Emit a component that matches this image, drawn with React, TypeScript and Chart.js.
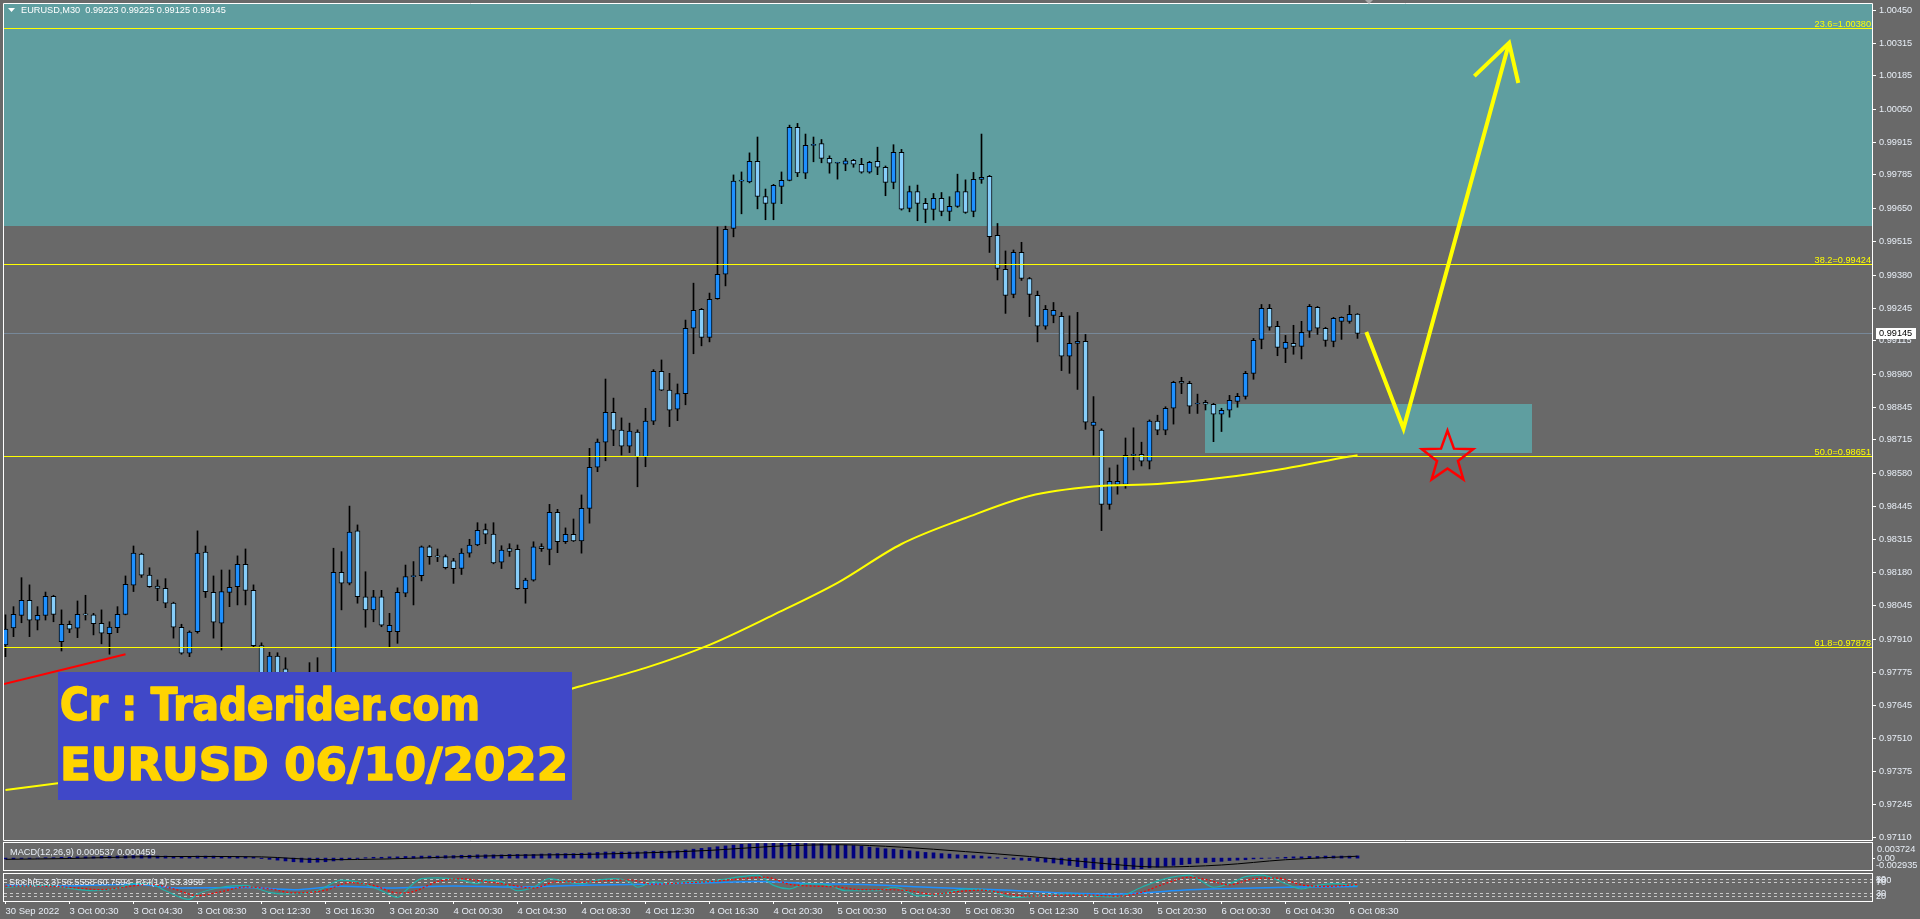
import React, { useEffect, useRef } from "react";
import { Chart, registerables } from "chart.js";

Chart.register(...registerables);

// ---------- candles (M30, bar 0 = 30 Sep 20:30, bar 169 = 6 Oct 09:00) ----------
const OPEN = [
  0.97888, 0.97956, 0.98007, 0.98068, 0.97987, 0.98007, 0.98084, 0.97901, 0.97971, 0.97955,
  0.98011, 0.98009, 0.97975, 0.97933, 0.97957, 0.98011, 0.98129, 0.98254, 0.98169, 0.98125,
  0.98116, 0.98056, 0.97959, 0.97854, 0.97941, 0.98262, 0.981, 0.97975, 0.981, 0.98123,
  0.98213, 0.98108, 0.97885, 0.9775, 0.97843, 0.97791, 0.9774, 0.977, 0.9773, 0.9772,
  0.9774, 0.9771, 0.98181, 0.98137, 0.98348, 0.98082, 0.98029, 0.98082, 0.97941, 0.97941,
  0.98096, 0.98163, 0.98167, 0.98284, 0.98244, 0.98244, 0.98227, 0.98196, 0.98258, 0.98291,
  0.98353, 0.98335, 0.98222, 0.98276, 0.98273, 0.98115, 0.98149, 0.98285, 0.98273, 0.98423,
  0.98304, 0.98334, 0.98307, 0.98439, 0.98605, 0.98706, 0.98827, 0.98755, 0.9869, 0.98747,
  0.98648, 0.98791, 0.98992, 0.98916, 0.98839, 0.98902, 0.99166, 0.99242, 0.99129, 0.99285,
  0.99384, 0.99569, 0.9976, 0.99757, 0.9984, 0.99698, 0.9967, 0.99739, 0.99763, 0.99977,
  0.99792, 0.99904, 0.99912, 0.99852, 0.99832, 0.99828, 0.99844, 0.99828, 0.99796, 0.9984,
  0.99816, 0.99755, 0.99876, 0.9965, 0.99718, 0.9967, 0.99646, 0.9969, 0.99638, 0.99658,
  0.99718, 0.99638, 0.99767, 0.99779, 0.99541, 0.99404, 0.99303, 0.99472, 0.99367, 0.99299,
  0.99174, 0.99218, 0.99214, 0.99053, 0.99105, 0.99113, 0.98774, 0.98755, 0.98455, 0.98536,
  0.98536, 0.98653, 0.98657, 0.98629, 0.98791, 0.98755, 0.98843, 0.98952, 0.98944, 0.9886,
  0.98867, 0.98859, 0.98819, 0.98835, 0.98871, 0.98891, 0.98984, 0.99121, 0.99246, 0.99174,
  0.99085, 0.99105, 0.99093, 0.99154, 0.9925, 0.99166, 0.99113, 0.99194, 0.99194, 0.99223,
];
const HIGH = [
  0.98009, 0.98042, 0.98159, 0.9813, 0.98042, 0.98101, 0.98088, 0.98029, 0.97984, 0.98065,
  0.98088, 0.98015, 0.98029, 0.97981, 0.98042, 0.98166, 0.98287, 0.98258, 0.98199, 0.9815,
  0.98155, 0.9806, 0.97971, 0.97944, 0.98348, 0.98287, 0.98166, 0.9819, 0.9819, 0.98247,
  0.98275, 0.9813, 0.97896, 0.97858, 0.97856, 0.97836, 0.9777, 0.9776, 0.97816, 0.97836,
  0.9777, 0.98278, 0.98264, 0.98448, 0.98372, 0.98183, 0.98108, 0.98108, 0.98015, 0.98118,
  0.9821, 0.98224, 0.98287, 0.98289, 0.98275, 0.98251, 0.98237, 0.98276, 0.98314, 0.98381,
  0.98376, 0.98381, 0.98288, 0.98296, 0.98291, 0.98157, 0.98304, 0.98296, 0.98455, 0.98435,
  0.9836, 0.98396, 0.98493, 0.98681, 0.98719, 0.98961, 0.98884, 0.98804, 0.98783, 0.98756,
  0.98843, 0.98999, 0.99038, 0.98984, 0.98941, 0.99199, 0.99348, 0.99246, 0.99308, 0.99575,
  0.99578, 0.99785, 0.99797, 0.99874, 0.99938, 0.99728, 0.99747, 0.99797, 0.99986, 0.99993,
  0.9995, 0.99938, 0.99928, 0.99862, 0.99836, 0.99852, 0.99848, 0.99852, 0.9984, 0.99897,
  0.99821, 0.99907, 0.99888, 0.9974, 0.99744, 0.9969, 0.9971, 0.99714, 0.99697, 0.99788,
  0.99765, 0.99795, 0.9995, 0.99783, 0.99589, 0.99478, 0.99482, 0.99513, 0.99371, 0.99316,
  0.99258, 0.9927, 0.9923, 0.99216, 0.9923, 0.99141, 0.9889, 0.9876, 0.98602, 0.98614,
  0.98723, 0.98764, 0.98706, 0.98796, 0.98815, 0.98849, 0.98952, 0.98968, 0.98952, 0.989,
  0.98875, 0.98863, 0.98843, 0.98895, 0.98903, 0.98992, 0.99125, 0.99262, 0.99262, 0.99194,
  0.99137, 0.99178, 0.99194, 0.99262, 0.99254, 0.9917, 0.9921, 0.99212, 0.99258, 0.99225,
];
const LOW = [
  0.9784, 0.97921, 0.97977, 0.97921, 0.97948, 0.97988, 0.97981, 0.97863, 0.97937, 0.97917,
  0.97988, 0.97928, 0.97892, 0.9785, 0.97937, 0.98009, 0.98103, 0.9816, 0.9812, 0.98066,
  0.98038, 0.97915, 0.9785, 0.9784, 0.97935, 0.98079, 0.97915, 0.97867, 0.98042, 0.98049,
  0.98049, 0.9788, 0.9774, 0.9772, 0.9773, 0.977, 0.9768, 0.9766, 0.9769, 0.9768,
  0.9769, 0.9769, 0.98029, 0.9813, 0.98056, 0.97959, 0.97981, 0.97961, 0.9788, 0.97894,
  0.98082, 0.98049, 0.98146, 0.98213, 0.98224, 0.98194, 0.98136, 0.98172, 0.98242, 0.98288,
  0.98296, 0.98215, 0.98196, 0.98245, 0.98112, 0.98056, 0.98145, 0.98265, 0.98211, 0.9826,
  0.98297, 0.98305, 0.98258, 0.98379, 0.98587, 0.98631, 0.98692, 0.98654, 0.98664, 0.98526,
  0.98607, 0.98777, 0.98914, 0.98769, 0.98793, 0.98857, 0.99063, 0.99095, 0.99111, 0.99283,
  0.99337, 0.99535, 0.99628, 0.99753, 0.99648, 0.99604, 0.99604, 0.99669, 0.99761, 0.99778,
  0.9977, 0.99838, 0.99834, 0.99792, 0.99768, 0.99802, 0.99816, 0.99792, 0.99792, 0.99786,
  0.99701, 0.99729, 0.99643, 0.99636, 0.996, 0.99592, 0.99603, 0.9962, 0.996, 0.99654,
  0.9963, 0.99616, 0.99751, 0.99472, 0.99361, 0.99226, 0.99289, 0.99359, 0.99213, 0.99111,
  0.99162, 0.99188, 0.98995, 0.98984, 0.98919, 0.98758, 0.98654, 0.98349, 0.98435, 0.98496,
  0.9852, 0.98594, 0.9861, 0.98598, 0.98736, 0.98736, 0.98779, 0.98902, 0.98822, 0.98822,
  0.98836, 0.98708, 0.98749, 0.98807, 0.98847, 0.9888, 0.9896, 0.99083, 0.99158, 0.99055,
  0.99027, 0.99061, 0.99042, 0.99129, 0.99141, 0.99093, 0.99091, 0.99121, 0.99186, 0.99125,
];
const CLOSE = [
  0.97951, 0.98011, 0.98068, 0.97987, 0.98007, 0.98084, 0.98011, 0.97971, 0.97951, 0.98011,
  0.98009, 0.97973, 0.97935, 0.9796, 0.98011, 0.98132, 0.98258, 0.98169, 0.98123, 0.98116,
  0.98056, 0.97959, 0.97854, 0.97939, 0.98258, 0.98103, 0.97979, 0.98103, 0.9812, 0.98213,
  0.98108, 0.97885, 0.9776, 0.97843, 0.9776, 0.9774, 0.977, 0.9773, 0.9772, 0.9774,
  0.9771, 0.98181, 0.98137, 0.98343, 0.98082, 0.98029, 0.98082, 0.97967, 0.97967, 0.981,
  0.98163, 0.98167, 0.98284, 0.98244, 0.98243, 0.98199, 0.98195, 0.98258, 0.98291, 0.9835,
  0.98335, 0.98219, 0.9827, 0.98265, 0.98115, 0.98149, 0.98284, 0.98276, 0.98423, 0.98304,
  0.98334, 0.98307, 0.98439, 0.98605, 0.98706, 0.98827, 0.98755, 0.9869, 0.98751, 0.98648,
  0.98791, 0.98992, 0.98916, 0.98835, 0.98902, 0.99166, 0.99238, 0.99129, 0.99283, 0.99384,
  0.99565, 0.9976, 0.99762, 0.9984, 0.99698, 0.9967, 0.99743, 0.99763, 0.99977, 0.99793,
  0.99904, 0.99907, 0.99852, 0.99832, 0.99834, 0.99842, 0.99828, 0.99796, 0.99836, 0.99816,
  0.99755, 0.99876, 0.99647, 0.99718, 0.9967, 0.99646, 0.9969, 0.99638, 0.99658, 0.99718,
  0.99634, 0.99767, 0.99775, 0.99536, 0.99408, 0.99299, 0.99472, 0.99367, 0.99303, 0.99174,
  0.99242, 0.99238, 0.99053, 0.99105, 0.99113, 0.98787, 0.98787, 0.98455, 0.98548, 0.98548,
  0.98653, 0.98657, 0.98629, 0.98791, 0.98755, 0.98843, 0.98948, 0.98944, 0.98851, 0.9886,
  0.98859, 0.98819, 0.98835, 0.98875, 0.98891, 0.98984, 0.99117, 0.99246, 0.9917, 0.99089,
  0.99109, 0.99093, 0.9915, 0.99254, 0.99166, 0.99117, 0.99206, 0.9921, 0.99222, 0.99145,
];

// ---------- moving average (yellow) ----------
const MA_BARS = [0, 8, 16, 24, 32, 40, 48, 56, 64, 72, 80, 88, 96, 104, 112, 120, 128, 136, 144, 152, 160, 168, 169];
const MA_VALUES = [
  0.97302, 0.97335, 0.97367, 0.97403, 0.97444, 0.97492, 0.9754, 0.97597, 0.97653, 0.97722,
  0.97795, 0.97888, 0.98009, 0.98138, 0.98295, 0.984, 0.98489, 0.98527, 0.98537, 0.98562,
  0.986, 0.98648, 0.98653,
];

// ---------- axes ----------
const PRICE_TICKS = [
  1.0045, 1.00315, 1.00185, 1.0005, 0.99915, 0.99785, 0.9965, 0.99515, 0.9938, 0.99245,
  0.99115, 0.9898, 0.98845, 0.98715, 0.9858, 0.98445, 0.98315, 0.9818, 0.98045, 0.9791,
  0.97775, 0.97645, 0.9751, 0.97375, 0.97245, 0.9711,
];
const TIME_TICK_BARS = [0, 8, 16, 24, 32, 40, 48, 56, 64, 72, 80, 88, 96, 104, 112, 120, 128, 136, 144, 152, 160, 168];
const TIME_LABELS = [
  "30 Sep 2022", "3 Oct 00:30", "3 Oct 04:30", "3 Oct 08:30", "3 Oct 12:30", "3 Oct 16:30",
  "3 Oct 20:30", "4 Oct 00:30", "4 Oct 04:30", "4 Oct 08:30", "4 Oct 12:30", "4 Oct 16:30",
  "4 Oct 20:30", "5 Oct 00:30", "5 Oct 04:30", "5 Oct 08:30", "5 Oct 12:30", "5 Oct 16:30",
  "5 Oct 20:30", "6 Oct 00:30", "6 Oct 04:30", "6 Oct 08:30",
];

// ---------- drawn objects ----------
const FIB_LEVELS = [1.0038, 0.99424, 0.98651, 0.97878];
const FIB_NAMES = ["23.6", "38.2", "50.0", "61.8"];
const UPPER_ZONE_BOTTOM = 0.99577;
const SUPPORT_ZONE_BARS = [149.94, 190.8];
const SUPPORT_ZONE_PRICES = [0.98662, 0.9886];
const ARROW_BARS = [170.1, 174.75, 187.95];
const ARROW_PRICES = [0.99151, 0.98761, 1.00318];
const ARROWHEAD_BARS = [183.6, 187.95, 189.1];
const ARROWHEAD_PRICES = [1.00184, 1.00318, 1.00156];
const TREND_BARS = [-0.19, 15];
const TREND_PRICES = [0.9773, 0.9785];
const STAR_BAR = 180.25;
const STAR_PRICE = 0.98644;
const SHIFT_MARK_BAR = 170.4;
const WATERMARK = ["Cr : Traderider.com", "EURUSD 06/10/2022"];

// ---------- MACD(12,26,9) ----------
const MACD_AXIS = [-0.002935, 0.003724];
const MACD_HIST = [
  -0.0002, -0.0002, -0.0001, -0.0001, 0.0, 0.0001, 0.0001, 0.0002, 0.0002, 0.0003,
  0.0003, 0.0003, 0.0004, 0.0004, 0.0005, 0.0005, 0.0006, 0.0006, 0.0006, 0.0005,
  0.0005, 0.0004, 0.0004, 0.0004, 0.0005, 0.0005, 0.0005, 0.0004, 0.0004, 0.0004,
  0.0003, 0.0002, -0.0001, -0.0003, -0.0005, -0.0007, -0.0009, -0.001, -0.0011, -0.001,
  -0.0009, -0.0007, -0.0005, -0.0003, -0.0001, 0.0001, 0.0002, 0.0002, 0.0003, 0.0003,
  0.0004, 0.0004, 0.0005, 0.0005, 0.0005, 0.0006, 0.0006, 0.0007, 0.0007, 0.0008,
  0.0008, 0.0008, 0.0008, 0.0009, 0.0009, 0.0009, 0.0009, 0.001, 0.0011, 0.0011,
  0.0011, 0.0011, 0.0012, 0.0013, 0.0014, 0.0015, 0.0015, 0.0015, 0.0015, 0.0015,
  0.0016, 0.0017, 0.0017, 0.0017, 0.0018, 0.002, 0.0022, 0.0024, 0.0026, 0.0028,
  0.003, 0.0032, 0.0034, 0.0035, 0.0036, 0.0036, 0.0037, 0.003724, 0.0037, 0.0036,
  0.0036, 0.0035, 0.0035, 0.0034, 0.0033, 0.0032, 0.0031, 0.0029, 0.0027, 0.0025,
  0.0023, 0.0022, 0.002, 0.0018, 0.0016, 0.0014, 0.0013, 0.0011, 0.001, 0.0008,
  0.0007, 0.0006, 0.0005, 0.0003, 0.0001, -0.0001, -0.0003, -0.0005, -0.0006, -0.0008,
  -0.001, -0.0012, -0.0015, -0.0018, -0.0021, -0.0024, -0.0027, -0.0029, -0.002935, -0.0029,
  -0.0028, -0.0027, -0.0026, -0.0024, -0.0022, -0.002, -0.0018, -0.0016, -0.0014, -0.0012,
  -0.0011, -0.0009, -0.0008, -0.0006, -0.0005, -0.0004, -0.0002, -0.0001, 0.0, 0.0001,
  0.0002, 0.0003, 0.0003, 0.0004, 0.0004, 0.0005, 0.0005, 0.0005, 0.0005, 0.000537,
];
const MACD_SIGNAL_BARS = [0, 8, 16, 24, 32, 40, 48, 56, 64, 72, 80, 88, 96, 104, 112, 120, 128, 136, 144, 152, 160, 169];
const MACD_SIGNAL = [
  -0.0003, -0.0001, 0.0003, 0.0004, 0.0003, -0.0004, -0.0002, 0.0003, 0.0007, 0.0009, 0.0013,
  0.0019, 0.0029, 0.0033, 0.0027, 0.0016, 0.0004, -0.0011, -0.0022, -0.0017, -0.0004, 0.000459,
];

// ---------- Stoch(5,3,3) + RSI(14) ----------
const STOCH_MAIN_BARS = [
  0, 5, 7, 11, 14, 16, 18, 20, 23, 24, 27, 30, 31, 33, 35, 39, 42, 44, 47, 49, 50, 52, 54, 57, 59,
  60, 62, 64, 66, 68, 70, 72, 74, 76, 78, 79, 81, 83, 85, 87, 92, 94, 96, 98, 100, 103, 105, 109,
  111, 112, 114, 117, 120, 123, 126, 129, 133, 136, 139, 142, 145, 148, 149, 151, 153, 155, 157,
  160, 162, 164, 166, 169,
];
const STOCH_MAIN = [
  51, 58, 51, 38, 47, 64, 64, 38, 6, 26, 51, 58, 51, 32, 26, 38, 77, 71, 38, 13, 38, 83, 86, 77, 64,
  77, 71, 38, 51, 83, 71, 64, 77, 83, 71, 51, 71, 64, 71, 71, 90, 96, 58, 45, 64, 58, 38, 38,
  51, 45, 19, 26, 45, 38, 13, 19, 26, 19, 15, 51, 83, 96, 83, 51, 64, 90, 96,
  64, 45, 58, 64, 56.5558,
];
const STOCH_SIGNAL_BARS = [
  0, 6, 9, 12, 15, 18, 21, 24, 27, 30, 33, 36, 40, 43, 46, 49, 51, 54, 57, 60, 63, 66, 69, 72, 75,
  78, 81, 84, 88, 92, 95, 98, 101, 104, 107, 110, 113, 116, 119, 122, 125, 128, 132, 135, 139,
  142, 145, 148, 150, 153, 156, 159, 162, 165, 169,
];
const STOCH_SIGNAL = [
  55, 54, 48, 42, 52, 62, 45, 20, 35, 52, 45, 30, 40, 68, 58, 30, 35, 72, 82, 72, 60, 48, 72, 70, 75,
  78, 62, 66, 72, 82, 88, 62, 55, 52, 42, 42, 38, 25, 35, 40, 28, 18, 22, 22, 18,
  32, 65, 88, 80, 60, 82, 85, 60, 54, 60.7594,
];
const RSI_BARS = [0, 8, 16, 22, 30, 36, 42, 48, 56, 64, 72, 80, 88, 94, 100, 108, 116, 124, 132, 138, 142, 148, 156, 162, 169];
const RSI_VALUES = [58, 56, 62, 48, 50, 42, 55, 48, 56, 52, 58, 62, 68, 72, 65, 60, 50, 42, 30, 25, 30, 42, 48, 52, 53.3959];
const STOCH_LEVELS = [80, 70, 30, 20];

// ---------- style ----------
const BG = "#696969";
const TEAL = "#5F9EA0";
const BULL = "#1E90FF";
const BEAR = "#87CEFA";
const YELLOW = "#FFFF00";
const LABEL = "#E8EEF6";
const FONT = "Liberation Sans";
const X_MIN = -0.1875;
const X_MAX = 233.3125;
const Y_MIN = 0.971;
const Y_MAX = 1.00475;

const pts = (xs: number[], ys: number[]) => xs.map((x, k) => ({ x, y: ys[k] }));

function frame(ctx: CanvasRenderingContext2D, ca: any) {
  ctx.save();
  ctx.strokeStyle = "#FFFFFF";
  ctx.lineWidth = 1;
  ctx.strokeRect(ca.left - 0.5, ca.top - 0.5, ca.right - ca.left + 1, ca.bottom - ca.top + 1);
  ctx.restore();
}

export default function App() {
  const mainRef = useRef<HTMLCanvasElement>(null);
  const macdRef = useRef<HTMLCanvasElement>(null);
  const stochRef = useRef<HTMLCanvasElement>(null);

  useEffect(() => {
    Chart.defaults.font.family = FONT;
    const bars = OPEN.map((_, i) => i);
    const charts: Chart[] = [];
    const last = bars.length - 1;

    const mainPlugin = {
      id: "mainDecor",
      beforeDatasetsDraw(chart: any) {
        const { ctx, chartArea: ca, scales } = chart;
        const xs = scales.x;
        const ys = scales.y;
        ctx.save();
        ctx.beginPath();
        ctx.rect(ca.left, ca.top, ca.right - ca.left, ca.bottom - ca.top);
        ctx.clip();
        ctx.fillStyle = TEAL;
        const zb = Math.round(ys.getPixelForValue(UPPER_ZONE_BOTTOM));
        ctx.fillRect(ca.left, ca.top, ca.right - ca.left, zb - ca.top);
        const x0 = Math.round(xs.getPixelForValue(SUPPORT_ZONE_BARS[0]));
        const x1 = Math.round(xs.getPixelForValue(SUPPORT_ZONE_BARS[1]));
        const y0 = Math.round(ys.getPixelForValue(SUPPORT_ZONE_PRICES[1]));
        const y1 = Math.round(ys.getPixelForValue(SUPPORT_ZONE_PRICES[0]));
        ctx.fillRect(x0, y0, x1 - x0, y1 - y0);
        // bid line
        const by = Math.round(ys.getPixelForValue(CLOSE[last])) + 0.5;
        ctx.strokeStyle = "#778899";
        ctx.lineWidth = 1;
        ctx.beginPath();
        ctx.moveTo(ca.left, by);
        ctx.lineTo(ca.right, by);
        ctx.stroke();
        ctx.restore();
      },
      afterDatasetsDraw(chart: any) {
        const { ctx, chartArea: ca, scales } = chart;
        const xs = scales.x;
        const ys = scales.y;
        ctx.save();
        // fibonacci levels
        ctx.font = `9.2px "${FONT}"`;
        ctx.textAlign = "right";
        ctx.textBaseline = "alphabetic";
        FIB_LEVELS.forEach((lv, k) => {
          const y = Math.round(ys.getPixelForValue(lv)) + 0.5;
          ctx.strokeStyle = YELLOW;
          ctx.lineWidth = 1;
          ctx.beginPath();
          ctx.moveTo(ca.left, y);
          ctx.lineTo(ca.right, y);
          ctx.stroke();
          ctx.fillStyle = YELLOW;
          ctx.fillText(`${FIB_NAMES[k]}=${lv.toFixed(5)}`, ca.right - 1, y - 2);
        });
        // star
        const cx = xs.getPixelForValue(STAR_BAR);
        const cy = ys.getPixelForValue(STAR_PRICE);
        const R = 27;
        const r = 11;
        ctx.beginPath();
        for (let k = 0; k < 10; k++) {
          const a = -Math.PI / 2 + (k * Math.PI) / 5;
          const rr = k % 2 === 0 ? R : r;
          const px = cx + rr * Math.cos(a);
          const py = cy + rr * Math.sin(a);
          if (k === 0) ctx.moveTo(px, py);
          else ctx.lineTo(px, py);
        }
        ctx.closePath();
        ctx.strokeStyle = "#FF0000";
        ctx.lineWidth = 2.5;
        ctx.stroke();
        ctx.restore();
      },
      afterDraw(chart: any) {
        const { ctx, chartArea: ca, scales } = chart;
        const xs = scales.x;
        const ys = scales.y;
        ctx.save();
        // watermark box
        const bx = ca.left + 54;
        const byTop = ca.top + 668;
        ctx.fillStyle = "#4048C8";
        ctx.fillRect(bx, byTop, 514, 128);
        ctx.fillStyle = "#FFD400";
        ctx.strokeStyle = "#FFD400";
        ctx.lineWidth = 1.6;
        ctx.lineJoin = "round";
        ctx.textAlign = "left";
        ctx.textBaseline = "alphabetic";
        ctx.font = `bold 44px "DejaVu Sans"`;
        const targets = [420, 508];
        const bases = [byTop + 48, byTop + 108];
        WATERMARK.forEach((t, k) => {
          const w = ctx.measureText(t).width;
          ctx.save();
          ctx.translate(bx + 2, bases[k]);
          ctx.scale(targets[k] / w, 1);
          ctx.fillText(t, 0, 0);
          ctx.strokeText(t, 0, 0);
          ctx.restore();
        });
        // header
        ctx.fillStyle = "#FFFFFF";
        ctx.beginPath();
        ctx.moveTo(8, 8);
        ctx.lineTo(15, 8);
        ctx.lineTo(11.5, 12);
        ctx.closePath();
        ctx.fill();
        ctx.font = `9.2px "${FONT}"`;
        ctx.textBaseline = "middle";
        ctx.fillText(
          `EURUSD,M30  ${OPEN[last].toFixed(5)} ${HIGH[last].toFixed(5)} ${LOW[last].toFixed(5)} ${CLOSE[last].toFixed(5)}`,
          21,
          10.5
        );
        frame(ctx, ca);
        // chart shift marker
        const sx = Math.round(xs.getPixelForValue(SHIFT_MARK_BAR));
        ctx.fillStyle = "#A9A9A9";
        ctx.beginPath();
        ctx.moveTo(sx - 4, 0);
        ctx.lineTo(sx + 4, 0);
        ctx.lineTo(sx, 4);
        ctx.closePath();
        ctx.fill();
        // bid price label
        const py = Math.round(ys.getPixelForValue(CLOSE[last]));
        ctx.fillStyle = "#FFFFFF";
        ctx.fillRect(ca.right + 4, py - 5, 40, 11);
        ctx.fillStyle = "#000000";
        ctx.font = `9.2px "${FONT}"`;
        ctx.textBaseline = "middle";
        ctx.fillText(CLOSE[last].toFixed(5), ca.right + 7, py + 0.5);
        ctx.restore();
      },
    };

    if (mainRef.current) {
      charts.push(
        new Chart(mainRef.current, {
          type: "bar",
          data: {
            datasets: [
              {
                type: "line",
                label: "arrow",
                data: pts(ARROW_BARS, ARROW_PRICES),
                borderColor: YELLOW,
                borderWidth: 4,
                pointRadius: 0,
                tension: 0,
                order: -2,
              } as any,
              {
                type: "line",
                label: "arrowhead",
                data: pts(ARROWHEAD_BARS, ARROWHEAD_PRICES),
                borderColor: YELLOW,
                borderWidth: 4,
                pointRadius: 0,
                tension: 0,
                order: -2,
              } as any,
              {
                type: "line",
                label: "trend",
                data: pts(TREND_BARS, TREND_PRICES),
                borderColor: "#FF0000",
                borderWidth: 2,
                pointRadius: 0,
                tension: 0,
                order: -1,
              } as any,
              {
                type: "line",
                label: "MA",
                data: pts(MA_BARS, MA_VALUES),
                borderColor: YELLOW,
                borderWidth: 2,
                pointRadius: 0,
                cubicInterpolationMode: "monotone",
                order: 0,
              } as any,
              {
                type: "bar",
                label: "bodies",
                data: bars.map((i) => ({ x: i, y: [OPEN[i], CLOSE[i]] })),
                backgroundColor: bars.map((i) => (CLOSE[i] >= OPEN[i] ? BULL : BEAR)),
                borderColor: "#000000",
                borderWidth: 1,
                borderSkipped: false,
                barThickness: 5,
                minBarLength: 1,
                grouped: false,
                order: 1,
              } as any,
              {
                type: "bar",
                label: "wicks",
                data: bars.map((i) => ({ x: i, y: [LOW[i], HIGH[i]] })),
                backgroundColor: "#000000",
                barThickness: 1,
                grouped: false,
                order: 2,
              } as any,
            ],
          },
          options: {
            animation: false,
            responsive: false,
            devicePixelRatio: 1,
            events: [],
            layout: { padding: { left: 4, top: 4, right: 0, bottom: 1 } },
            plugins: { legend: { display: false }, tooltip: { enabled: false } },
            scales: {
              x: { type: "linear", min: X_MIN, max: X_MAX, display: false, offset: false },
              y: {
                type: "linear",
                position: "right",
                min: Y_MIN,
                max: Y_MAX,
                afterBuildTicks: (s: any) => {
                  s.ticks = PRICE_TICKS.map((v) => ({ value: v }));
                },
                afterFit: (s: any) => {
                  s.width = 48;
                  s.paddingTop = 0;
                  s.paddingBottom = 0;
                },
                grid: { drawOnChartArea: false, drawTicks: true, tickLength: 4, color: "#FFFFFF" },
                border: { display: true, color: "#FFFFFF" },
                ticks: {
                  autoSkip: false,
                  padding: 3,
                  color: LABEL,
                  font: { family: FONT, size: 9.2 },
                  callback: (v: any) => Number(v).toFixed(5),
                },
              },
            },
          } as any,
          plugins: [mainPlugin],
        })
      );
    }

    const macdPlugin = {
      id: "macdDecor",
      afterDraw(chart: any) {
        const { ctx, chartArea: ca, scales } = chart;
        const ys = scales.y;
        ctx.save();
        frame(ctx, ca);
        ctx.fillStyle = LABEL;
        ctx.font = `9.2px "${FONT}"`;
        ctx.textAlign = "left";
        ctx.textBaseline = "middle";
        ctx.fillText(
          `MACD(12,26,9) ${MACD_HIST[last].toFixed(6)} ${MACD_SIGNAL[MACD_SIGNAL.length - 1].toFixed(6)}`,
          10,
          11.5
        );
        ctx.fillText(MACD_AXIS[1].toFixed(6), ca.right + 5, ys.getPixelForValue(MACD_AXIS[1]) + 6);
        ctx.fillText("0.00", ca.right + 5, ys.getPixelForValue(0) + 0.5);
        ctx.fillText(MACD_AXIS[0].toFixed(6), ca.right + 4, ys.getPixelForValue(MACD_AXIS[0]) - 5);
        ctx.strokeStyle = "#FFFFFF";
        ctx.beginPath();
        const zy = Math.round(ys.getPixelForValue(0)) + 0.5;
        ctx.moveTo(ca.right, zy);
        ctx.lineTo(ca.right + 3, zy);
        ctx.stroke();
        ctx.restore();
      },
    };

    if (macdRef.current) {
      charts.push(
        new Chart(macdRef.current, {
          type: "bar",
          data: {
            datasets: [
              {
                type: "line",
                data: pts(MACD_SIGNAL_BARS, MACD_SIGNAL),
                borderColor: "#000000",
                borderWidth: 1,
                pointRadius: 0,
                cubicInterpolationMode: "monotone",
                order: 0,
              } as any,
              {
                type: "bar",
                data: bars.map((i) => ({ x: i, y: MACD_HIST[i] })),
                backgroundColor: "#000080",
                barThickness: 3,
                grouped: false,
                order: 1,
              } as any,
            ],
          },
          options: {
            animation: false,
            responsive: false,
            devicePixelRatio: 1,
            events: [],
            layout: { padding: { left: 4, top: 2, right: 48, bottom: 2 } },
            plugins: { legend: { display: false }, tooltip: { enabled: false } },
            scales: {
              x: { type: "linear", min: X_MIN, max: X_MAX, display: false, offset: false },
              y: { type: "linear", min: MACD_AXIS[0], max: MACD_AXIS[1], display: false },
            },
          } as any,
          plugins: [macdPlugin],
        })
      );
    }

    const stochPlugin = {
      id: "stochDecor",
      beforeDatasetsDraw(chart: any) {
        const { ctx, chartArea: ca, scales } = chart;
        const ys = scales.y;
        ctx.save();
        ctx.strokeStyle = "#C8C8C8";
        ctx.lineWidth = 1;
        ctx.setLineDash([3, 3]);
        STOCH_LEVELS.forEach((lv) => {
          const y = Math.round(ys.getPixelForValue(lv)) + 0.5;
          ctx.beginPath();
          ctx.moveTo(ca.left, y);
          ctx.lineTo(ca.right, y);
          ctx.stroke();
        });
        ctx.restore();
      },
      afterDraw(chart: any) {
        const { ctx, chartArea: ca, scales } = chart;
        const ys = scales.y;
        ctx.save();
        frame(ctx, ca);
        ctx.fillStyle = LABEL;
        ctx.font = `9.2px "${FONT}"`;
        ctx.textAlign = "left";
        ctx.textBaseline = "middle";
        ctx.fillText(
          `Stoch(5,3,3) ${STOCH_MAIN[STOCH_MAIN.length - 1].toFixed(4)} ${STOCH_SIGNAL[STOCH_SIGNAL.length - 1].toFixed(4)}  RSI(14) ${RSI_VALUES[RSI_VALUES.length - 1].toFixed(4)}`,
          9,
          10.5
        );
        ctx.fillText("100", ca.right + 4, ys.getPixelForValue(100) + 6);
        STOCH_LEVELS.forEach((lv) => {
          ctx.fillText(String(lv), ca.right + 4, ys.getPixelForValue(lv) + 0.5);
        });
        ctx.restore();
      },
    };

    if (stochRef.current) {
      charts.push(
        new Chart(stochRef.current, {
          type: "line",
          data: {
            datasets: [
              {
                data: pts(STOCH_SIGNAL_BARS, STOCH_SIGNAL),
                borderColor: "#FF0000",
                borderWidth: 1.2,
                borderDash: [2, 2],
                pointRadius: 0,
                cubicInterpolationMode: "monotone",
              },
              {
                data: pts(STOCH_MAIN_BARS, STOCH_MAIN),
                borderColor: "#20B2AA",
                borderWidth: 1.2,
                pointRadius: 0,
                cubicInterpolationMode: "monotone",
              },
              {
                data: pts(RSI_BARS, RSI_VALUES),
                borderColor: "#1E90FF",
                borderWidth: 1.5,
                pointRadius: 0,
                cubicInterpolationMode: "monotone",
              },
            ],
          },
          options: {
            animation: false,
            responsive: false,
            devicePixelRatio: 1,
            events: [],
            layout: { padding: { left: 4, top: 2, right: 48, bottom: 0 } },
            plugins: { legend: { display: false }, tooltip: { enabled: false } },
            scales: {
              x: {
                type: "linear",
                position: "bottom",
                min: X_MIN,
                max: X_MAX,
                offset: false,
                afterBuildTicks: (s: any) => {
                  s.ticks = TIME_TICK_BARS.map((v) => ({ value: v }));
                },
                afterFit: (s: any) => {
                  s.height = 18;
                  s.paddingLeft = 0;
                  s.paddingRight = 0;
                },
                grid: { drawOnChartArea: false, drawTicks: true, tickLength: 3, color: "#FFFFFF" },
                border: { display: true, color: "#FFFFFF" },
                ticks: {
                  autoSkip: false,
                  maxRotation: 0,
                  minRotation: 0,
                  align: "start",
                  padding: 2,
                  color: LABEL,
                  font: { family: FONT, size: 9.5 },
                  callback: (_v: any, idx: number) => TIME_LABELS[idx],
                },
              },
              y: { type: "linear", min: 0, max: 100, display: false },
            },
          } as any,
          plugins: [stochPlugin],
        })
      );
    }

    return () => charts.forEach((c) => c.destroy());
  }, []);

  return (
    <div
      style={{
        position: "fixed",
        left: 0,
        top: 0,
        width: 1920,
        height: 919,
        background: BG,
        overflow: "hidden",
      }}
    >
      <canvas
        ref={mainRef}
        width={1920}
        height={841}
        style={{ position: "absolute", left: 0, top: 0, width: 1920, height: 841 }}
      />
      <canvas
        ref={macdRef}
        width={1920}
        height={31}
        style={{ position: "absolute", left: 0, top: 841, width: 1920, height: 31 }}
      />
      <canvas
        ref={stochRef}
        width={1920}
        height={47}
        style={{ position: "absolute", left: 0, top: 872, width: 1920, height: 47 }}
      />
    </div>
  );
}
